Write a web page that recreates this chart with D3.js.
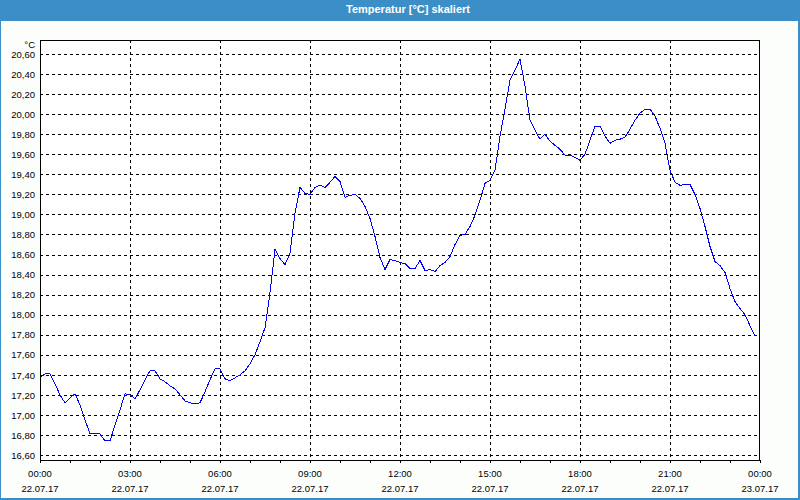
<!DOCTYPE html>
<html>
<head>
<meta charset="utf-8">
<script src="https://cdn.jsdelivr.net/npm/d3@7"></script>
<style>
  html, body { margin: 0; padding: 0; background: #fcfefc; }
  svg { display: block; }
  text { font-family: "Liberation Sans", Arial, sans-serif; }
</style>
</head>
<body>
<svg id="chart" width="800" height="500"></svg>
<script>
// ---- data ----
const title = "Temperatur [°C] skaliert";
const unit = "°C";
const startDate = "22.07.17";
const endDate = "23.07.17";
const stepMinutes = 10; // sample interval, starting at 00:00
const values = [
  17.37, 17.41, 17.41, 17.31, 17.20, 17.12, 17.17, 17.21, 17.10, 16.95,
  16.81, 16.81, 16.81, 16.74, 16.74, 16.90, 17.05, 17.21, 17.20, 17.16,
  17.25, 17.35, 17.44, 17.44, 17.36, 17.33, 17.29, 17.26, 17.20, 17.14,
  17.12, 17.11, 17.12, 17.23, 17.35, 17.46, 17.46, 17.36, 17.34, 17.37,
  17.40, 17.44, 17.51, 17.60, 17.73, 17.87, 18.22, 18.65, 18.56, 18.50,
  18.61, 19.01, 19.27, 19.21, 19.20, 19.27, 19.29, 19.27, 19.32, 19.38,
  19.33, 19.17, 19.19, 19.20, 19.16, 19.08, 18.96, 18.78, 18.57, 18.45,
  18.55, 18.54, 18.52, 18.51, 18.46, 18.46, 18.54, 18.44, 18.45, 18.43,
  18.49, 18.52, 18.58, 18.70, 18.79, 18.80, 18.88, 18.99, 19.14, 19.31,
  19.34, 19.44, 19.78, 20.05, 20.34, 20.44, 20.55, 20.28, 19.94, 19.84,
  19.75, 19.80, 19.73, 19.69, 19.65, 19.59, 19.59, 19.57, 19.54, 19.60,
  19.74, 19.88, 19.88, 19.78, 19.71, 19.74, 19.75, 19.77, 19.85, 19.94,
  20.01, 20.05, 20.05, 19.98, 19.86, 19.71, 19.44, 19.32, 19.29, 19.30,
  19.30, 19.20, 19.06, 18.88, 18.68, 18.53, 18.49, 18.42, 18.26, 18.13,
  18.06, 18.00, 17.89, 17.79
];
const yTicks = [16.6, 16.8, 17.0, 17.2, 17.4, 17.6, 17.8, 18.0, 18.2, 18.4,
                18.6, 18.8, 19.0, 19.2, 19.4, 19.6, 19.8, 20.0, 20.2, 20.4, 20.6];
const xMajorTicks = [0, 180, 360, 540, 720, 900, 1080, 1260, 1440]; // minutes
const xMajorLabels = ["00:00", "03:00", "06:00", "09:00", "12:00", "15:00", "18:00", "21:00", "00:00"];
const xMinorTicks = d3.range(0, 1441, 60);
const yDomain = [16.55, 20.74];

// ---- drawing ----
const W = 800, H = 500;
const m = { left: 40, right: 40, top: 40, bottom: 40 };
const svg = d3.select("#chart");
const frame = "#3c8fc6";

// window frame + title bar
svg.append("rect").attr("x", 0).attr("y", 0).attr("width", W).attr("height", H).attr("fill", "#fcfefc");
svg.append("rect").attr("x", 0).attr("y", 0).attr("width", W).attr("height", 21).attr("fill", frame);
svg.append("rect").attr("x", 0).attr("y", 0).attr("width", 1).attr("height", H).attr("fill", frame);
svg.append("rect").attr("x", W - 2).attr("y", 0).attr("width", 2).attr("height", H).attr("fill", frame);
svg.append("rect").attr("x", 0).attr("y", H - 2).attr("width", W).attr("height", 2).attr("fill", frame);
svg.append("text").attr("x", 408).attr("y", 13).attr("text-anchor", "middle")
  .attr("fill", "#ffffff").attr("font-size", "11px").attr("font-weight", "bold").text(title);

const x = d3.scaleLinear().domain([0, 1440]).range([m.left, W - m.right]);
const y = d3.scaleLinear().domain(yDomain).range([H - m.bottom, m.top]);
const px = v => Math.round(v) + 0.5;

// plot background
svg.append("rect").attr("x", m.left).attr("y", m.top)
  .attr("width", W - m.left - m.right).attr("height", H - m.top - m.bottom).attr("fill", "#ffffff");

// horizontal grid
svg.append("g").selectAll("line").data(yTicks).join("line")
  .attr("x1", m.left).attr("x2", W - m.right)
  .attr("y1", d => px(y(d))).attr("y2", d => px(y(d)))
  .attr("stroke", "#000").attr("stroke-width", 1).attr("stroke-dasharray", "3,3")
  .attr("shape-rendering", "crispEdges");

// vertical grid
svg.append("g").selectAll("line").data(xMajorTicks.slice(1, -1)).join("line")
  .attr("x1", d => px(x(d))).attr("x2", d => px(x(d)))
  .attr("y1", m.top).attr("y2", H - m.bottom)
  .attr("stroke", "#000").attr("stroke-width", 1).attr("stroke-dasharray", "3,3")
  .attr("shape-rendering", "crispEdges");

// y axis labels
const yAxis = d3.axisLeft(y).tickValues(yTicks).tickSize(0).tickPadding(5)
  .tickFormat(d => d3.format(".2f")(d).replace(".", ","));
const gy = svg.append("g").attr("transform", `translate(${m.left},0)`).call(yAxis);
gy.select(".domain").remove();
gy.selectAll("text").attr("font-family", "Liberation Sans, Arial, sans-serif")
  .attr("font-size", "9.5px").attr("fill", "#000").attr("dy", "0.34em");
svg.append("text").attr("x", m.left - 5).attr("y", 48).attr("text-anchor", "end")
  .attr("font-size", "9.5px").attr("fill", "#000").text(unit);

// x axis hourly ticks
const xAxis = d3.axisBottom(x).tickValues(xMinorTicks).tickSize(3).tickFormat("");
const gx = svg.append("g").attr("transform", `translate(0,${H - m.bottom})`).call(xAxis);
gx.select(".domain").remove();
gx.selectAll("line").attr("stroke", "#000").attr("shape-rendering", "crispEdges");

// x labels
const lbl = svg.append("g").selectAll("g").data(xMajorTicks).join("g")
  .attr("transform", d => `translate(${x(d)},0)`);
lbl.append("text").attr("y", 477).attr("text-anchor", "middle").attr("font-size", "9.5px")
  .attr("fill", "#000").text((d, i) => xMajorLabels[i]);
lbl.append("text").attr("y", 492).attr("text-anchor", "middle").attr("font-size", "9.5px")
  .attr("fill", "#000").text((d, i) => i === xMajorTicks.length - 1 ? endDate : startDate);

// data line
const line = d3.line().x((d, i) => x(i * stepMinutes)).y(d => y(d));
svg.append("path").datum(values).attr("d", line)
  .attr("fill", "none").attr("stroke", "#0000ff").attr("stroke-width", 1)
  .attr("shape-rendering", "crispEdges");

// plot border
svg.append("rect").attr("x", m.left + 0.5).attr("y", m.top + 0.5)
  .attr("width", W - m.left - m.right - 1).attr("height", H - m.top - m.bottom)
  .attr("fill", "none").attr("stroke", "#000").attr("stroke-width", 1)
  .attr("shape-rendering", "crispEdges");
</script>
</body>
</html>
